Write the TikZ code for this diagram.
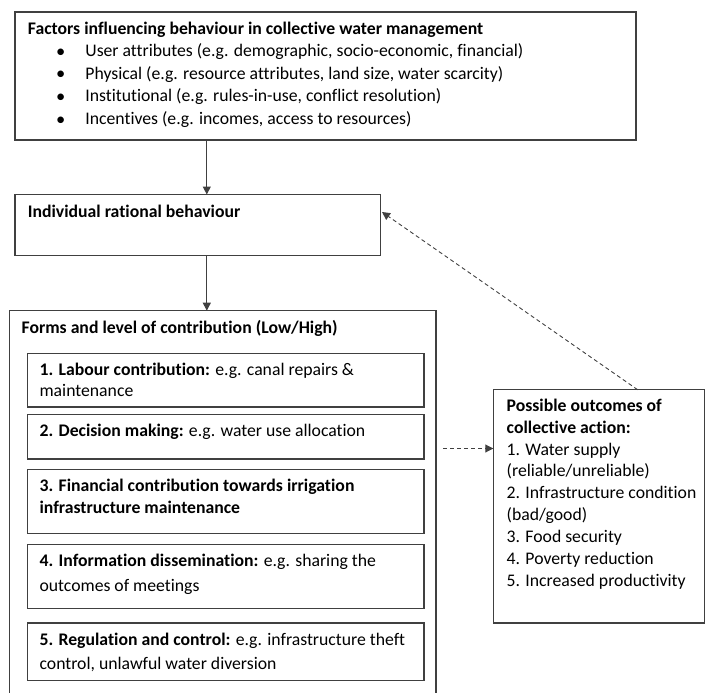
\documentclass[tikz,border=0pt]{standalone}
\usepackage{fontspec}
\setmainfont{Carlito}[Ligatures={NoCommon}]
\usetikzlibrary{arrows.meta}
\definecolor{linegray}{HTML}{404040}
\begin{document}
\begin{tikzpicture}[x=1pt,y=-1pt,
  box/.style={draw=linegray, line width=1.2pt, inner sep=0pt, outer sep=0pt, anchor=north west, rectangle},
  txt/.style={anchor=base west, inner sep=0pt, outer sep=0pt, font=\fontsize{17.7}{21.6}\selectfont},
  bul/.style={anchor=base, inner sep=0pt, outer sep=0pt, font=\fontsize{18.5}{21.6}\selectfont},
  arr/.style={draw=linegray, line width=1.1pt, -{Triangle[length=8pt,width=8pt]}},
  darr/.style={draw=linegray, line width=0.9pt, dash pattern=on 4pt off 3pt, -{Triangle[length=8pt,width=8pt]}}]
\clip (0,0) rectangle (705,693);
% boxes
\node[box, minimum width=621pt, minimum height=128pt] (top) at (15,12) {};
\node[box, minimum width=365.5pt, minimum height=61pt] (ind) at (15,194.5) {};
\node[box, minimum width=426.5pt, minimum height=390pt] (forms) at (9.5,310.7) {};
\node[box, minimum width=396.5pt, minimum height=53.5pt] (b1) at (27.5,353.5) {};
\node[box, minimum width=396.5pt, minimum height=44.5pt] (b2) at (27.5,414.5) {};
\node[box, minimum width=396.5pt, minimum height=64pt] (b3) at (27.5,469.7) {};
\node[box, minimum width=396.5pt, minimum height=63.5pt] (b4) at (27.5,544.8) {};
\node[box, minimum width=396.5pt, minimum height=57.5pt] (b5) at (27.5,623) {};
\node[box, minimum width=211.5pt, minimum height=233.3pt] (out) at (493.3,389.7) {};
% top box text
\node[txt] (t0) at (27.9,34.5) {\textbf{Factors influencing behaviour in collective water management}};
\node[bul] (u1) at (60.7,57.5) {•};
\node[bul] (u2) at (60.7,80) {•};
\node[bul] (u3) at (60.7,102.5) {•};
\node[bul] (u4) at (60.7,125) {•};
\node[txt] (t1) at (85.4,57) {User attributes (e.g. demographic, socio-economic, financial)};
\node[txt] (t2) at (85.4,79.5) {Physical (e.g. resource attributes, land size, water scarcity)};
\node[txt] (t3) at (85.4,102) {Institutional (e.g. rules-in-use, conflict resolution)};
\node[txt] (t4) at (85.4,124.5) {Incentives (e.g. incomes, access to resources)};
% individual
\node[txt] (ti) at (27.9,217.3) {\textbf{Individual rational behaviour}};
% forms
\node[txt] (tf) at (21.6,333) {\textbf{Forms and level of contribution (Low/High)}};
\node[txt] (b1a) at (39.6,375.7) {\textbf{1. Labour contribution:} e.g. canal repairs \&};
\node[txt] (b1b) at (39.6,396.7) {maintenance};
\node[txt] (b2a) at (39.6,436.5) {\textbf{2. Decision making:} e.g. water use allocation};
\node[txt] (b3a) at (39.6,491.5) {\textbf{3. Financial contribution towards irrigation}};
\node[txt] (b3b) at (39.6,513.5) {\textbf{infrastructure maintenance}};
\node[txt] (b4a) at (39.6,566.5) {\textbf{4. Information dissemination:} e.g. sharing the};
\node[txt] (b4b) at (39.6,591.3) {outcomes of meetings};
\node[txt] (b5a) at (39.6,645) {\textbf{5. Regulation and control:} e.g. infrastructure theft};
\node[txt] (b5b) at (39.6,669.5) {control, unlawful water diversion};
% outcomes
\node[txt] (o1) at (506.7,411) {\textbf{Possible outcomes of}};
\node[txt] (o2) at (506.7,433) {\textbf{collective action:}};
\node[txt] (o3) at (506.7,455.5) {1. Water supply};
\node[txt] (o4) at (506.7,476.5) {(reliable/unreliable)};
\node[txt] (o5) at (506.7,498.5) {2. Infrastructure condition};
\node[txt] (o6) at (506.7,520.5) {(bad/good)};
\node[txt] (o7) at (506.7,542) {3. Food security};
\node[txt] (o8) at (506.7,564) {4. Poverty reduction};
\node[txt] (o9) at (506.7,586) {5. Increased productivity};
% connectors
\coordinate (ax) at (206.8,0);
\draw[arr] (top.south -| ax) -- (ind.north -| ax);
\draw[arr] (ind.south -| ax) -- (forms.north -| ax);
\coordinate (d1s) at (443,448.5);
\draw[darr] (d1s) -- (out.west |- d1s);
\coordinate (d2s) at (637.6,0);
\coordinate (d2e) at (382,212);
\draw[darr] (out.north -| d2s) -- (d2e);
\end{tikzpicture}
\end{document}
